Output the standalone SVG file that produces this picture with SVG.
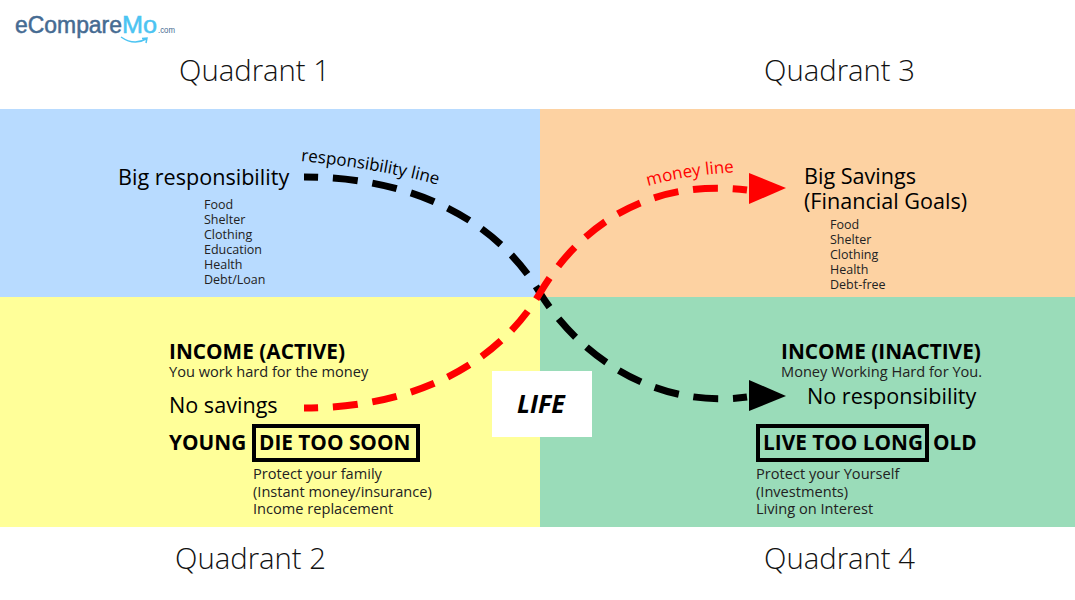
<svg xmlns="http://www.w3.org/2000/svg" width="1075" height="600" viewBox="0 0 1075 600">
<style>
text{font-family:"Open Sans","Noto Sans","Liberation Sans",sans-serif;fill:#000}
.q{font-size:29.3px;font-weight:300;fill:#111}
.h{font-size:21.6px}
.b{font-size:20.8px;font-weight:700}
.s{font-size:12.5px;fill:#222}
.m{font-size:14.6px;fill:#222}
.box{fill:none;stroke:#000;stroke-width:4}
.dash{fill:none;stroke-width:7;stroke-dasharray:25 14.8;stroke-dashoffset:11}
.logo{font-family:"Liberation Sans",sans-serif;font-size:23px;stroke-width:.5}
</style>
<defs>
<path id="rp" d="M301 161C340 165 395 172 445 187"/>
<path id="mp" d="M648 186C675 178 705 174 740 172"/>
</defs>
<rect width="1075" height="600" fill="#fff"/>
<g id="logo">
<text class="logo" x="15" y="33" textLength="107" lengthAdjust="spacingAndGlyphs" style="fill:#456b92;stroke:#456b92">eCompare</text>
<text class="logo" x="122" y="33" textLength="35" lengthAdjust="spacingAndGlyphs" style="fill:#4cc4f2;stroke:#4cc4f2">Mo</text>
<text x="158" y="33" textLength="17" lengthAdjust="spacingAndGlyphs" style="font-family:'Liberation Sans',sans-serif;font-size:9px;fill:#456b92">.com</text>
<path d="M121 37Q134 46 146 39M142 38.500L147 38 146 43" fill="none" stroke="#4cc4f2" stroke-width="1.500"/>
</g>
<g id="quadrant1">
<rect x="0" y="109" width="540" height="188" fill="#b8dbff"/>
<text class="q" x="179" y="81">Quadrant 1</text>
<text class="h" x="118" y="185">Big responsibility</text>
<text class="s"><tspan x="204" y="209">Food</tspan><tspan x="204" y="224">Shelter</tspan><tspan x="204" y="239">Clothing</tspan><tspan x="204" y="254">Education</tspan><tspan x="204" y="269">Health</tspan><tspan x="204" y="284">Debt/Loan</tspan></text>
</g>
<g id="quadrant3">
<rect x="540" y="109" width="535" height="188" fill="#fdd2a2"/>
<text class="q" x="764" y="81">Quadrant 3</text>
<text class="h"><tspan x="804" y="184">Big Savings</tspan><tspan x="804" y="209">(Financial Goals)</tspan></text>
<text class="s"><tspan x="830" y="229">Food</tspan><tspan x="830" y="244">Shelter</tspan><tspan x="830" y="259">Clothing</tspan><tspan x="830" y="274">Health</tspan><tspan x="830" y="289">Debt-free</tspan></text>
</g>
<g id="quadrant2">
<rect x="0" y="297" width="540" height="230" fill="#ffff99"/>
<text class="q" x="175" y="569">Quadrant 2</text>
<text class="b" x="169" y="359">INCOME (ACTIVE)</text>
<text class="m" x="169" y="377">You work hard for the money</text>
<text class="h" x="169" y="413">No savings</text>
<text class="b" x="169" y="450">YOUNG</text>
<rect class="box" x="254" y="426" width="164" height="34"/>
<text class="b" x="259" y="450">DIE TOO SOON</text>
<text class="m"><tspan x="253" y="479">Protect your family</tspan><tspan x="253" y="496.500">(Instant money/insurance)</tspan><tspan x="253" y="514">Income replacement</tspan></text>
</g>
<g id="quadrant4">
<rect x="540" y="297" width="535" height="230" fill="#9adcb9"/>
<text class="q" x="764" y="569">Quadrant 4</text>
<text class="b" x="781" y="359">INCOME (INACTIVE)</text>
<text class="m" x="781" y="377">Money Working Hard for You.</text>
<text class="h" x="807" y="404">No responsibility</text>
<rect class="box" x="758" y="426" width="169" height="34"/>
<text class="b" x="763" y="450">LIVE TOO LONG</text>
<text class="b" x="933" y="450">OLD</text>
<text class="m"><tspan x="756" y="479">Protect your Yourself</tspan><tspan x="756" y="496.500">(Investments)</tspan><tspan x="756" y="514">Living on Interest</tspan></text>
</g>
<g id="life">
<rect x="492" y="371" width="100" height="66" fill="#fff"/>
<text x="541" y="413" text-anchor="middle" style="font-size:25px;font-weight:700;font-style:italic">LIFE</text>
</g>
<g id="connectors">
<g id="responsibility-line">
<path class="dash" stroke="#000" d="M304 177C420 177 500 225 540 293C575 350 650 410 747 397"/>
<polygon points="749,380 786,396 749,411" fill="#000"/>
<text style="font-size:17px"><textPath href="#rp">responsibility line</textPath></text>
</g>
<g id="money-line">
<path class="dash" stroke="#f00" d="M304 408C420 408 500 360 540 293C580 225 650 178 747 190"/>
<polygon points="749,173 786,188 749,204" fill="#f00"/>
<text style="font-size:17px;fill:#f00"><textPath href="#mp">money line</textPath></text>
</g>
</g>
</svg>
